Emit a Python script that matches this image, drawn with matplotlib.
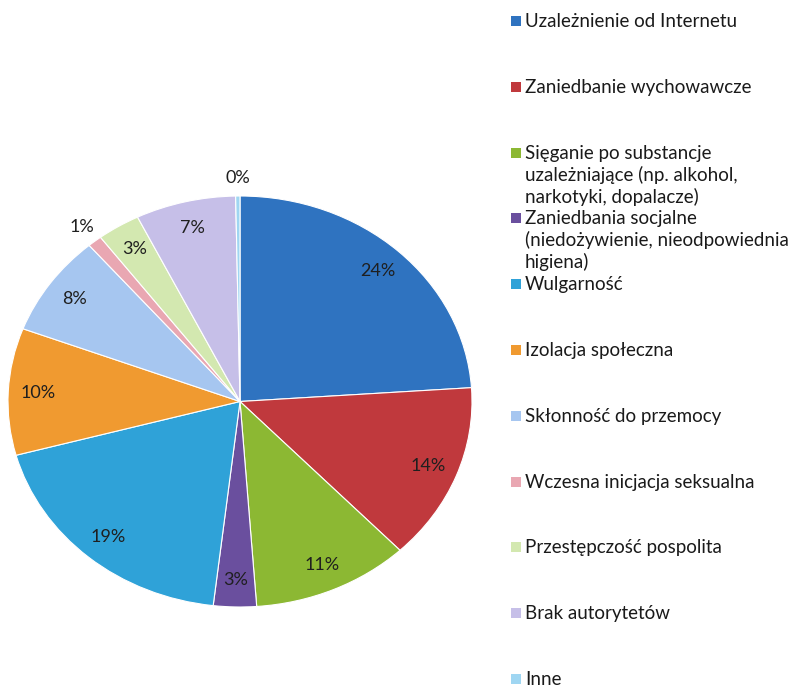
import numpy as np
import matplotlib.pyplot as plt
from matplotlib.patches import Rectangle

labels = [
    "Uzależnienie od Internetu",
    "Zaniedbanie wychowawcze",
    "Sięganie po substancje\nuzależniające (np. alkohol,\nnarkotyki, dopalacze)",
    "Zaniedbania socjalne\n(niedożywienie, nieodpowiednia\nhigiena)",
    "Wulgarność",
    "Izolacja społeczna",
    "Skłonność do przemocy",
    "Wczesna inicjacja seksualna",
    "Przestępczość pospolita",
    "Brak autorytetów",
    "Inne",
]
values = [24, 14, 11, 3, 19, 10, 8, 1, 3, 7, 0.3]
colors = ["#2f73c0", "#c0393d", "#8cb833", "#6a4f9e", "#2fa2d8", "#f09a30",
          "#a6c6f0", "#e9a7b2", "#d3e8b0", "#c6bfe8", "#9fd6f2"]

plt.rcParams['font.family'] = ['Lato', 'DejaVu Sans']

fig = plt.figure(figsize=(8.01, 6.89), dpi=100)
W, H = 801, 689

# pie is slightly squashed in the original, so use a non-square axes
ax = fig.add_axes([8 / W, 82 / H, 464 / W, 411 / H])
wedges, _ = ax.pie(values, colors=colors, startangle=90, counterclock=False,
                   radius=1, wedgeprops=dict(edgecolor='white', linewidth=0.8))
ax.set_aspect('auto')
ax.set_xlim(-1, 1)
ax.set_ylim(-1, 1)
ax.axis('off')

for w, v in zip(wedges, values):
    mid = np.deg2rad((w.theta1 + w.theta2) / 2)
    r = 1.09 if v < 2 else 0.87
    ax.text(r * np.cos(mid), r * np.sin(mid), f"{round(v)}%",
            ha='center', va='center', fontsize=13, color='#1f1f1f')

# legend, evenly spaced entries with text anchored at the first line
for i, (lab, c) in enumerate(zip(labels, colors)):
    y = 21 + 65.8 * i
    fig.add_artist(Rectangle((511 / W, 1 - (y + 5) / H), 10 / W, 10 / H,
                             facecolor=c, edgecolor='none',
                             transform=fig.transFigure))
    fig.text(525 / W, 1 - (y - 8) / H, lab, ha='left', va='top',
             fontsize=13.5, color='#1a1a1a', linespacing=1.26)

fig.savefig('out.png', dpi=100)
